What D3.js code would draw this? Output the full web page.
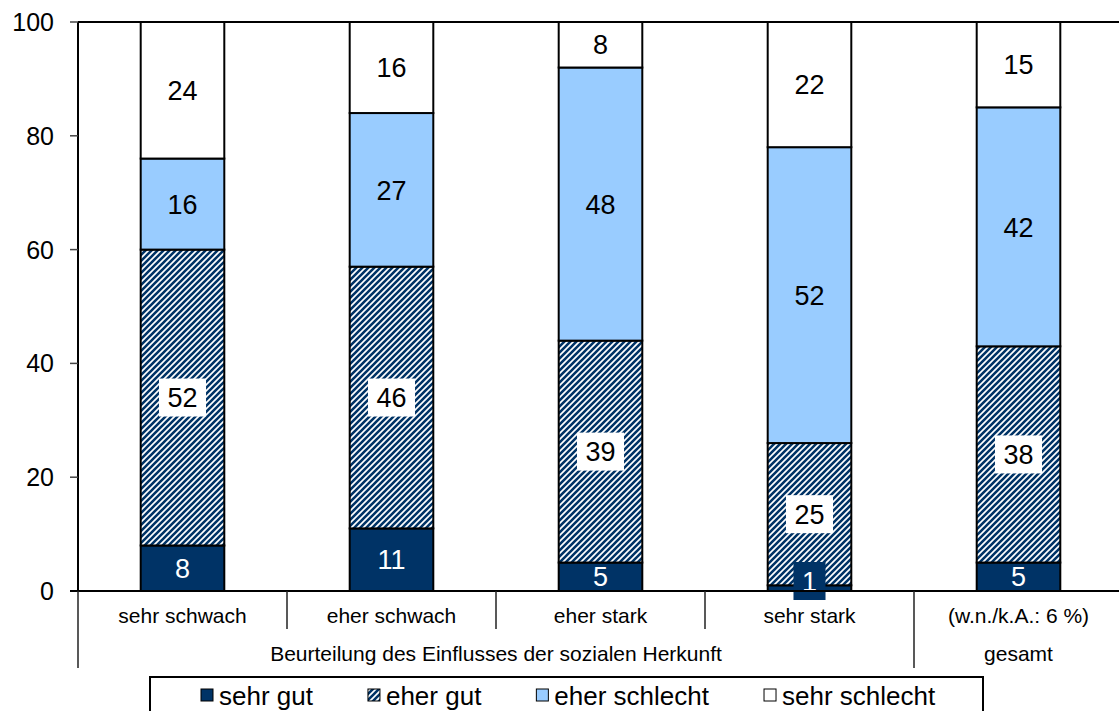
<!DOCTYPE html>
<html>
<head>
<meta charset="utf-8">
<script src="https://cdn.jsdelivr.net/npm/d3@7"></script>
<style>
  html, body { margin: 0; padding: 0; background: #fff; }
  svg { display: block; font-family: "Liberation Sans", Arial, sans-serif; }
</style>
</head>
<body>
<svg id="chart" width="1119" height="711"></svg>
<script>
const categories = ["sehr schwach", "eher schwach", "eher stark", "sehr stark", "(w.n./k.A.: 6 %)"];
const seriesNames = ["sehr gut", "eher gut", "eher schlecht", "sehr schlecht"];
const sehrGut = [8, 11, 5, 1, 5];
const eherGut = [52, 46, 39, 25, 38];
const eherSchlecht = [16, 27, 48, 52, 42];
const sehrSchlecht = [24, 16, 8, 22, 15];
const yTicks = [0, 20, 40, 60, 80, 100];
const groupLabels = ["Beurteilung des Einflusses der sozialen Herkunft", "gesamt"];
const groupSizes = [4, 1];

const NAVY = "#003366", LIGHT = "#99CCFF";
const svg = d3.select("#chart");

// hatch pattern
const defs = svg.append("defs");
const pat = defs.append("pattern").attr("id", "hatch")
  .attr("patternUnits", "userSpaceOnUse").attr("width", 6).attr("height", 6);
pat.append("rect").attr("width", 6).attr("height", 6).attr("fill", "#fff");
pat.append("path").attr("d", "M-1,7 L7,-1 M-4,4 L4,-4 M2,10 L10,2")
  .attr("stroke", NAVY).attr("stroke-width", 2.6);

const fills = [NAVY, "url(#hatch)", LIGHT, "#fff"];
const labelBg = [NAVY, "#fff", null, null];
const labelColor = ["#fff", "#000", "#000", "#000"];

const x = d3.scaleBand().domain(categories).range([78, 1123]).padding(0);
const y = d3.scaleLinear().domain([0, 100]).range([591, 22]);
const barW = x.bandwidth() * 0.4;

const table = categories.map((c, i) => ({
  cat: c,
  "sehr gut": sehrGut[i], "eher gut": eherGut[i],
  "eher schlecht": eherSchlecht[i], "sehr schlecht": sehrSchlecht[i]
}));
const stacked = d3.stack().keys(seriesNames)(table);

// bars
stacked.forEach((layer, si) => {
  svg.append("g").selectAll("rect").data(layer).join("rect")
    .attr("x", d => x(d.data.cat) + (x.bandwidth() - barW) / 2)
    .attr("y", d => y(d[1]))
    .attr("width", barW)
    .attr("height", d => y(d[0]) - y(d[1]))
    .attr("fill", fills[si])
    .attr("stroke", "#000").attr("stroke-width", 2);
});

// labels
const BOX_H = 38;
stacked.forEach((layer, si) => {
  const g = svg.append("g");
  layer.forEach(d => {
    const v = d[1] - d[0];
    const segH = y(d[0]) - y(d[1]);
    const cx = x(d.data.cat) + x.bandwidth() / 2;
    const cy = Math.min((y(d[0]) + y(d[1])) / 2, y(0) - 10);
    const t = g.append("text").attr("x", cx).attr("y", cy).attr("dy", "0.36em")
      .attr("text-anchor", "middle").attr("font-size", 27)
      .attr("fill", labelColor[si]).text(v);
    // background box: always for patterned fill, otherwise only when the label overflows
    const needBox = labelBg[si] && (si === 1 || segH < BOX_H - 12);
    if (needBox) {
      const w = t.node().getComputedTextLength() + 17;
      g.insert("rect", () => t.node())
        .attr("x", cx - w / 2).attr("y", cy - BOX_H / 2).attr("width", w).attr("height", BOX_H)
        .attr("fill", labelBg[si]);
    }
  });
});

// y axis
const yg = svg.append("g");
yg.append("line").attr("x1", 78).attr("x2", 78).attr("y1", y(100)).attr("y2", y(0))
  .attr("stroke", "#000").attr("stroke-width", 2);
yTicks.forEach(t => {
  yg.append("line").attr("x1", 70).attr("x2", 78).attr("y1", y(t)).attr("y2", y(t))
    .attr("stroke", "#444").attr("stroke-width", 1.5);
  yg.append("text").attr("x", 54).attr("y", y(t)).attr("dy", "0.36em")
    .attr("text-anchor", "end").attr("font-size", 25).text(t);
});
// top border
svg.append("line").attr("x1", 78).attr("x2", 1123).attr("y1", y(100)).attr("y2", y(100))
  .attr("stroke", "#000").attr("stroke-width", 2);
// x axis line
svg.append("line").attr("x1", 70).attr("x2", 1123).attr("y1", y(0)).attr("y2", y(0))
  .attr("stroke", "#000").attr("stroke-width", 2);

// category labels and separators
const xg = svg.append("g");
let boundaries = [0];
groupSizes.reduce((acc, s) => { boundaries.push(acc + s); return acc + s; }, 0);
categories.forEach((c, i) => {
  xg.append("text").attr("x", x(c) + x.bandwidth() / 2).attr("y", 623)
    .attr("text-anchor", "middle").attr("font-size", 21).text(c);
});
for (let i = 0; i <= categories.length; i++) {
  const xx = 78 + i * x.bandwidth();
  const long = boundaries.includes(i);
  xg.append("line").attr("x1", xx).attr("x2", xx).attr("y1", y(0)).attr("y2", long ? 668 : 629)
    .attr("stroke", "#222").attr("stroke-width", 1.5);
}
groupLabels.forEach((g, gi) => {
  const a = 78 + boundaries[gi] * x.bandwidth();
  const b = 78 + boundaries[gi + 1] * x.bandwidth();
  const cx = gi === groupLabels.length - 1 ? x(categories[categories.length - 1]) + x.bandwidth() / 2 : (a + b) / 2;
  xg.append("text").attr("x", cx).attr("y", 661)
    .attr("text-anchor", "middle").attr("font-size", 21).text(g);
});

// legend
const lg = svg.append("g");
lg.append("rect").attr("x", 150).attr("y", 677).attr("width", 833).attr("height", 50)
  .attr("fill", "#fff").attr("stroke", "#000").attr("stroke-width", 2);
let lx = 201;
seriesNames.forEach((s, i) => {
  lg.append("rect").attr("x", lx).attr("y", 689).attr("width", 12).attr("height", 12)
    .attr("fill", fills[i]).attr("stroke", "#000").attr("stroke-width", 1);
  const t = lg.append("text").attr("x", lx + 18).attr("y", 705)
    .attr("font-size", 26).text(s);
  lx = lx + 18 + t.node().getComputedTextLength() + 55;
});
</script>
</body>
</html>
